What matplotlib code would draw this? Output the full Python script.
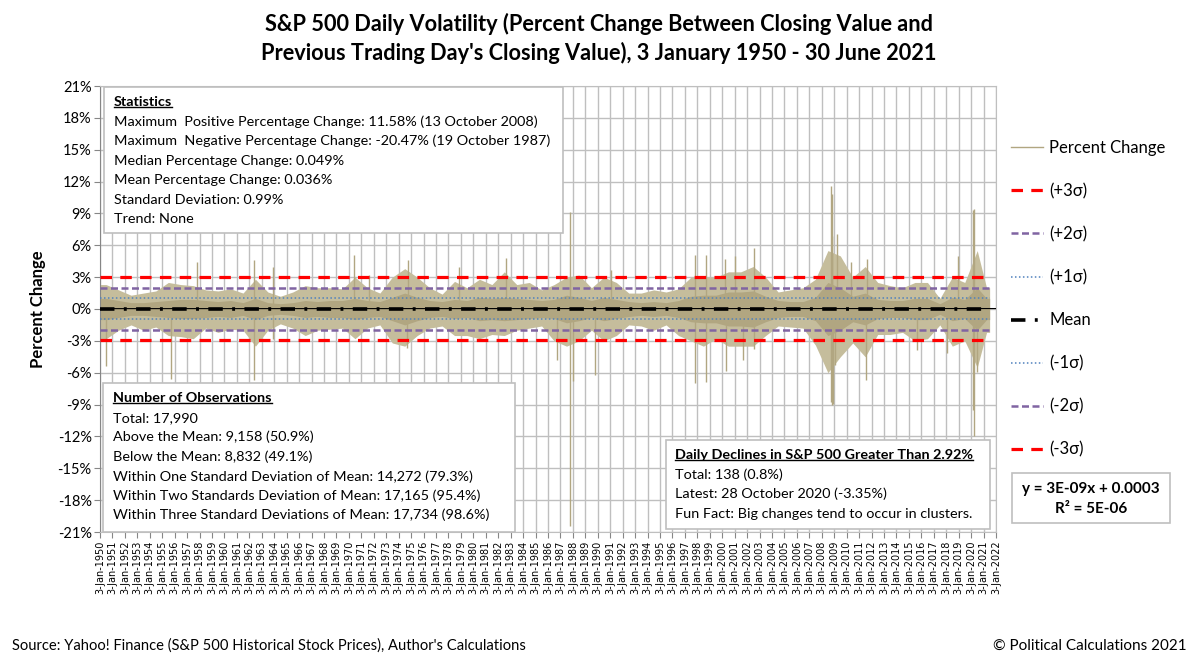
import matplotlib.pyplot as plt
from matplotlib.lines import Line2D
from matplotlib.patches import Rectangle
import pandas as pd

plt.rcParams['font.family'] = ['Lato', 'DejaVu Sans']

# yearly envelope of the daily % changes (1950..2021)
years = list(range(1950, 2022))
core = [1.0, 0.8, 0.6, 0.6, 0.7, 0.8, 0.9, 0.9, 0.8, 0.7,
        0.8, 0.6, 1.0, 0.6, 0.5, 0.6, 0.8, 0.7, 0.8, 0.8,
        1.0, 0.8, 0.7, 1.1, 1.5, 1.1, 0.8, 0.7, 0.9, 0.8,
        1.1, 1.0, 1.1, 1.0, 0.9, 0.8, 0.9, 1.3, 1.1, 0.8,
        1.1, 0.9, 0.7, 0.6, 0.7, 0.6, 0.8, 1.2, 1.3, 1.3,
        1.6, 1.6, 1.7, 1.2, 0.8, 0.7, 0.7, 1.1, 2.5, 2.0,
        1.2, 1.5, 0.9, 0.8, 0.8, 1.0, 1.0, 0.5, 1.1, 0.9,
        2.0, 1.0]
hair_hi = [2.3, 1.8, 1.3, 1.5, 1.7, 2.5, 2.3, 2.2, 1.8, 1.7,
           1.9, 1.5, 2.8, 1.6, 1.2, 1.6, 2.2, 2.0, 2.0, 1.9,
           3.0, 2.0, 1.5, 3.0, 3.8, 3.0, 2.0, 1.4, 2.6, 2.0,
           2.8, 2.3, 3.5, 2.3, 2.5, 1.8, 2.3, 3.0, 3.2, 2.0,
           3.0, 2.5, 1.5, 1.5, 1.8, 1.6, 1.9, 3.0, 3.0, 3.0,
           3.5, 3.5, 4.0, 3.0, 1.6, 1.8, 2.0, 2.8, 5.5, 5.0,
           3.0, 4.0, 2.5, 2.2, 2.0, 2.5, 2.5, 1.0, 3.0, 2.5,
           5.5, 2.0]
hair_lo = [-2.8, -2.0, -1.5, -2.0, -1.7, -2.5, -2.6, -2.8, -1.8, -2.2,
           -1.9, -2.0, -3.5, -2.0, -1.4, -1.8, -2.5, -2.0, -1.9, -1.8,
           -2.8, -1.8, -1.5, -3.2, -3.5, -2.5, -1.8, -1.6, -2.5, -2.5,
           -2.8, -2.4, -2.5, -2.0, -1.8, -1.6, -3.0, -3.5, -3.0, -2.0,
           -3.0, -2.5, -1.5, -1.6, -2.0, -1.5, -2.5, -3.0, -3.5, -2.8,
           -3.5, -3.5, -3.5, -2.5, -1.6, -1.7, -1.8, -3.4, -6.0, -4.5,
           -3.2, -4.5, -2.4, -2.4, -2.2, -3.0, -2.8, -1.5, -3.5, -3.0,
           -5.5, -2.2]

# single large moves standing out of the band
spike_dates = ['1950-06-26', '1955-09-26', '1957-10-22', '1962-05-28', '1962-05-29',
               '1963-11-22', '1963-11-26', '1970-05-27', '1971-08-16', '1974-10-09',
               '1974-09-13', '1978-11-01', '1982-08-17', '1986-09-11', '1987-10-19',
               '1987-10-21', '1988-01-08', '1989-10-13', '1991-01-17', '1997-10-27',
               '1997-10-28', '1998-08-31', '1998-09-08', '2000-03-16', '2000-04-14',
               '2001-01-03', '2001-09-17', '2002-07-24', '2002-07-19', '2008-09-29',
               '2008-10-13', '2008-10-15', '2008-10-28', '2008-11-13', '2008-12-01',
               '2009-03-23', '2009-01-20', '2010-05-10', '2011-08-08', '2011-08-09',
               '2015-08-24', '2018-02-05', '2018-12-26', '2020-03-12', '2020-03-13',
               '2020-03-16', '2020-03-24', '2020-06-11']
spike_vals = [-5.4, -6.6, 4.4, -6.7, 4.6,
              -2.8, 4.0, 5.1, 3.2, 4.6,
              -3.7, 4.0, 4.8, -4.8, -20.47,
              9.1, -6.8, -6.2, 3.7, -7.0,
              5.1, -6.9, 5.1, 4.7, -5.8,
              5.0, -4.8, 5.7, -3.8, -8.8,
              11.58, -9.0, 10.8, 6.9, -8.9,
              7.1, -5.3, 4.4, -6.7, 4.7,
              -3.9, -4.1, 5.0, -9.5, 9.3,
              -12.0, 9.4, -5.9]

mean_pct = 0.036
sd_pct = 0.99
trend_slope = 3e-9
trend_icept = 0.0003

W, H = 1198, 661
fig = plt.figure(figsize=(W / 100, H / 100), dpi=100)


def fx(x):
    return x / W


def fy(y):
    return 1 - y / H


ax = fig.add_axes([fx(100), fy(532), fx(996) - fx(100), fy(86) - fy(532)])

start = pd.Timestamp('1950-01-03')
end = pd.Timestamp('2021-06-30')
mids = [pd.Timestamp(f'{y}-07-01') for y in years[:-1]] + [pd.Timestamp('2021-04-01')]
xs = [start] + mids + [end]
tan = '#B1A681'
ax.fill_between(xs, [hair_lo[0]] + hair_lo + [hair_lo[-1]],
                [hair_hi[0]] + hair_hi + [hair_hi[-1]],
                color='#C5BD9C', lw=0, zorder=2)
ax.fill_between(xs, [-core[0]] + [-c for c in core] + [-core[-1]],
                [core[0]] + core + [core[-1]], color=tan, lw=0, zorder=2)
ax.vlines(pd.to_datetime(spike_dates), 0, spike_vals, color=tan, lw=1.0, zorder=2)

# sigma bands
sig_styles = {3: dict(color='#FF0000', lw=2.3, dashes=(3.6, 2.6)),
              2: dict(color='#8064A2', lw=1.8, dashes=(2.8, 1.4)),
              1: dict(color='#4F81BD', lw=1.1, dashes=(1.0, 1.6))}
for k in (3, 2, 1):
    for s in (1, -1):
        ax.plot([start, end], [mean_pct + s * k * sd_pct] * 2, zorder=4, **sig_styles[k])
ax.plot([start, end], [mean_pct] * 2, color='black', lw=2.6,
        dashes=(4, 2.6, 0.8, 2.6), zorder=5)

# linear trend (Excel date serials)
t0 = pd.Timestamp('1950-01-03')
t1 = pd.Timestamp('2022-01-03')
serial0 = (t0 - pd.Timestamp('1899-12-30')).days
serial1 = (t1 - pd.Timestamp('1899-12-30')).days
ax.plot([t0, t1], [100 * (trend_slope * serial0 + trend_icept),
                   100 * (trend_slope * serial1 + trend_icept)],
        color='black', lw=0.8, zorder=5)

ax.set_ylim(-21, 21)
ax.set_yticks(range(-21, 22, 3))
ax.set_yticklabels([f'{v}%' for v in range(-21, 22, 3)], fontsize=10.5)
tick_dates = [pd.Timestamp(f'{y}-01-03') for y in range(1950, 2023)]
ax.set_xlim(tick_dates[0], tick_dates[-1])
ax.set_xticks(tick_dates)
ax.set_xticklabels([f'3-Jan-{d.year}' for d in tick_dates], rotation=90,
                   fontsize=7, family='DejaVu Sans')
ax.grid(True, color='#BFBFBF', lw=1, zorder=0)
ax.set_axisbelow(True)
for side in ('top', 'right', 'bottom'):
    ax.spines[side].set_color('#BFBFBF')
ax.spines['left'].set_color('#868686')
ax.tick_params(axis='both', length=4, color='#868686', pad=2)
ax.set_ylabel('Percent Change', fontsize=12, fontweight='bold', labelpad=8)

fig.text(0.5, fy(24), 'S&P 500 Daily Volatility (Percent Change Between Closing Value and',
         ha='center', va='center', fontsize=15.7, fontweight='bold')
fig.text(0.5, fy(53), "Previous Trading Day's Closing Value), 3 January 1950 - 30 June 2021",
         ha='center', va='center', fontsize=15.7, fontweight='bold')


def text_box(x0, y0, x1, y1, tx, header, lines, ys):
    fig.add_artist(Rectangle((fx(x0), fy(y1)), fx(x1) - fx(x0), fy(y0) - fy(y1),
                             transform=fig.transFigure, facecolor='white',
                             edgecolor='#BFBFBF', lw=1.2, zorder=1))
    hdr = fig.text(fx(tx), fy(ys[0]), header, ha='left', va='center',
                   fontsize=10.4, fontweight='bold', zorder=2)
    for line, yy in zip(lines, ys[1:]):
        fig.text(fx(tx), fy(yy), line, ha='left', va='center', fontsize=10.4, zorder=2)
    return hdr


headers = []
headers.append(text_box(104, 87, 563, 233, 114, 'Statistics',
                        ['Maximum  Positive Percentage Change: 11.58% (13 October 2008)',
                         'Maximum  Negative Percentage Change: -20.47% (19 October 1987)',
                         'Median Percentage Change: 0.049%',
                         'Mean Percentage Change: 0.036%',
                         'Standard Deviation: 0.99%',
                         'Trend: None'],
                        [102, 122, 141, 161, 180, 200, 219]))
headers.append(text_box(103, 383, 515, 532, 113, 'Number of Observations',
                        ['Total: 17,990',
                         'Above the Mean: 9,158 (50.9%)',
                         'Below the Mean: 8,832 (49.1%)',
                         'Within One Standard Deviation of Mean: 14,272 (79.3%)',
                         'Within Two Standards Deviation of Mean: 17,165 (95.4%)',
                         'Within Three Standard Deviations of Mean: 17,734 (98.6%)'],
                        [398, 418, 437, 457, 477, 496, 515]))
headers.append(text_box(666, 440, 990, 529, 675, 'Daily Declines in S&P 500 Greater Than 2.92%',
                        ['Total: 138 (0.8%)',
                         'Latest: 28 October 2020 (-3.35%)',
                         'Fun Fact: Big changes tend to occur in clusters.'],
                        [455, 475, 494, 514]))

# legend
handles = [Line2D([], [], color=tan, lw=1),
           Line2D([], [], **sig_styles[3]),
           Line2D([], [], **sig_styles[2]),
           Line2D([], [], **sig_styles[1]),
           Line2D([], [], color='black', lw=2.6, dashes=(4, 2.6, 0.8, 2.6)),
           Line2D([], [], **sig_styles[1]),
           Line2D([], [], **sig_styles[2]),
           Line2D([], [], **sig_styles[3])]
labels = ['Percent Change', '(+3σ)', '(+2σ)', '(+1σ)', 'Mean', '(-1σ)', '(-2σ)', '(-3σ)']
fig.legend(handles, labels, loc='upper left', bbox_to_anchor=(fx(1011), fy(140)),
           frameon=False, fontsize=12, labelspacing=1.62, handlelength=1.9,
           handletextpad=0.4, borderpad=0, borderaxespad=0)

fig.add_artist(Rectangle((fx(1012), fy(523)), fx(1170) - fx(1012), fy(473) - fy(523),
                         transform=fig.transFigure, facecolor='white',
                         edgecolor='#BFBFBF', lw=1.2))
fig.text(fx(1091), fy(489), 'y = 3E-09x + 0.0003', ha='center', va='center',
         fontsize=11, fontweight='bold')
fig.text(fx(1091), fy(509), 'R² = 5E-06', ha='center', va='center',
         fontsize=11, fontweight='bold')

fig.text(fx(12), fy(646), "Source: Yahoo! Finance (S&P 500 Historical Stock Prices), Author's Calculations",
         ha='left', va='center', fontsize=10.6)
fig.text(fx(1187), fy(646), '© Political Calculations 2021', ha='right', va='center',
         fontsize=11)

# underline the box headers
fig.canvas.draw()
r = fig.canvas.get_renderer()
for h in headers:
    bb = h.get_window_extent(r)
    fig.add_artist(Line2D([bb.x0 / W, bb.x1 / W], [(bb.y0 + 1) / H] * 2,
                          transform=fig.transFigure, color='black', lw=1, zorder=3))

fig.savefig('out.png', dpi=100)
